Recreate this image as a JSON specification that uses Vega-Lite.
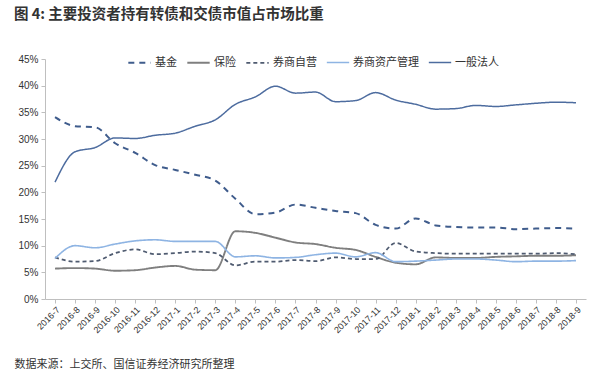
{
  "$schema": "https://vega.github.io/schema/vega-lite/v6.json",
  "autosize": "none",
  "width": 541,
  "height": 240,
  "padding": {"left": 45, "top": 59, "right": 14, "bottom": 78},
  "background": "white",
  "title": {
    "text": "图 4:  主要投资者持有转债和交债市值占市场比重",
    "anchor": "start",
    "frame": "group",
    "dx": -31,
    "offset": 28,
    "font": "Noto Sans CJK SC",
    "fontSize": 14.5,
    "fontWeight": "bold",
    "color": "#333333"
  },
  "config": {
    "view": {"stroke": null},
    "font": "Noto Sans CJK SC"
  },
  "datasets": {
    "rows": [
      {"month": "2016-7", "series": "基金", "value": 34.1},
      {"month": "2016-8", "series": "基金", "value": 32.4},
      {"month": "2016-9", "series": "基金", "value": 32.2},
      {"month": "2016-10", "series": "基金", "value": 29.2},
      {"month": "2016-11", "series": "基金", "value": 27.4},
      {"month": "2016-12", "series": "基金", "value": 25.1},
      {"month": "2017-1", "series": "基金", "value": 24.2},
      {"month": "2017-2", "series": "基金", "value": 23.3},
      {"month": "2017-3", "series": "基金", "value": 22.2},
      {"month": "2017-4", "series": "基金", "value": 18.8},
      {"month": "2017-5", "series": "基金", "value": 15.9},
      {"month": "2017-6", "series": "基金", "value": 16.2},
      {"month": "2017-7", "series": "基金", "value": 17.7},
      {"month": "2017-8", "series": "基金", "value": 17.1},
      {"month": "2017-9", "series": "基金", "value": 16.5},
      {"month": "2017-10", "series": "基金", "value": 16.1},
      {"month": "2017-11", "series": "基金", "value": 13.9},
      {"month": "2017-12", "series": "基金", "value": 13.2},
      {"month": "2018-1", "series": "基金", "value": 15.1},
      {"month": "2018-2", "series": "基金", "value": 13.8},
      {"month": "2018-3", "series": "基金", "value": 13.5},
      {"month": "2018-4", "series": "基金", "value": 13.4},
      {"month": "2018-5", "series": "基金", "value": 13.4},
      {"month": "2018-6", "series": "基金", "value": 13.1},
      {"month": "2018-7", "series": "基金", "value": 13.2},
      {"month": "2018-8", "series": "基金", "value": 13.3},
      {"month": "2018-9", "series": "基金", "value": 13.2},
      {"month": "2016-7", "series": "保险", "value": 5.7},
      {"month": "2016-8", "series": "保险", "value": 5.8},
      {"month": "2016-9", "series": "保险", "value": 5.7},
      {"month": "2016-10", "series": "保险", "value": 5.3},
      {"month": "2016-11", "series": "保险", "value": 5.4},
      {"month": "2016-12", "series": "保险", "value": 5.9},
      {"month": "2017-1", "series": "保险", "value": 6.2},
      {"month": "2017-2", "series": "保险", "value": 5.5},
      {"month": "2017-3", "series": "保险", "value": 5.4},
      {"month": "2017-4", "series": "保险", "value": 12.7},
      {"month": "2017-5", "series": "保险", "value": 12.4},
      {"month": "2017-6", "series": "保险", "value": 11.5},
      {"month": "2017-7", "series": "保险", "value": 10.6},
      {"month": "2017-8", "series": "保险", "value": 10.3},
      {"month": "2017-9", "series": "保险", "value": 9.6},
      {"month": "2017-10", "series": "保险", "value": 9.2},
      {"month": "2017-11", "series": "保险", "value": 7.9},
      {"month": "2017-12", "series": "保险", "value": 6.8},
      {"month": "2018-1", "series": "保险", "value": 6.5},
      {"month": "2018-2", "series": "保险", "value": 7.8},
      {"month": "2018-3", "series": "保险", "value": 7.7},
      {"month": "2018-4", "series": "保险", "value": 7.7},
      {"month": "2018-5", "series": "保险", "value": 7.9},
      {"month": "2018-6", "series": "保险", "value": 8.0},
      {"month": "2018-7", "series": "保险", "value": 8.1},
      {"month": "2018-8", "series": "保险", "value": 8.1},
      {"month": "2018-9", "series": "保险", "value": 8.2},
      {"month": "2016-7", "series": "券商自营", "value": 7.8},
      {"month": "2016-8", "series": "券商自营", "value": 7.0},
      {"month": "2016-9", "series": "券商自营", "value": 7.1},
      {"month": "2016-10", "series": "券商自营", "value": 8.6},
      {"month": "2016-11", "series": "券商自营", "value": 9.3},
      {"month": "2016-12", "series": "券商自营", "value": 8.4},
      {"month": "2017-1", "series": "券商自营", "value": 8.6},
      {"month": "2017-2", "series": "券商自营", "value": 8.9},
      {"month": "2017-3", "series": "券商自营", "value": 8.6},
      {"month": "2017-4", "series": "券商自营", "value": 6.3},
      {"month": "2017-5", "series": "券商自营", "value": 7.0},
      {"month": "2017-6", "series": "券商自营", "value": 7.0},
      {"month": "2017-7", "series": "券商自营", "value": 7.3},
      {"month": "2017-8", "series": "券商自营", "value": 7.1},
      {"month": "2017-9", "series": "券商自营", "value": 7.8},
      {"month": "2017-10", "series": "券商自营", "value": 7.5},
      {"month": "2017-11", "series": "券商自营", "value": 7.5},
      {"month": "2017-12", "series": "券商自营", "value": 10.5},
      {"month": "2018-1", "series": "券商自营", "value": 8.9},
      {"month": "2018-2", "series": "券商自营", "value": 8.6},
      {"month": "2018-3", "series": "券商自营", "value": 8.5},
      {"month": "2018-4", "series": "券商自营", "value": 8.5},
      {"month": "2018-5", "series": "券商自营", "value": 8.5},
      {"month": "2018-6", "series": "券商自营", "value": 8.5},
      {"month": "2018-7", "series": "券商自营", "value": 8.5},
      {"month": "2018-8", "series": "券商自营", "value": 8.6},
      {"month": "2018-9", "series": "券商自营", "value": 8.4},
      {"month": "2016-7", "series": "券商资产管理", "value": 7.6},
      {"month": "2016-8", "series": "券商资产管理", "value": 10.0},
      {"month": "2016-9", "series": "券商资产管理", "value": 9.6},
      {"month": "2016-10", "series": "券商资产管理", "value": 10.3},
      {"month": "2016-11", "series": "券商资产管理", "value": 10.9},
      {"month": "2016-12", "series": "券商资产管理", "value": 11.1},
      {"month": "2017-1", "series": "券商资产管理", "value": 10.8},
      {"month": "2017-2", "series": "券商资产管理", "value": 10.8},
      {"month": "2017-3", "series": "券商资产管理", "value": 10.8},
      {"month": "2017-4", "series": "券商资产管理", "value": 7.9},
      {"month": "2017-5", "series": "券商资产管理", "value": 8.1},
      {"month": "2017-6", "series": "券商资产管理", "value": 7.7},
      {"month": "2017-7", "series": "券商资产管理", "value": 7.8},
      {"month": "2017-8", "series": "券商资产管理", "value": 8.3},
      {"month": "2017-9", "series": "券商资产管理", "value": 8.6},
      {"month": "2017-10", "series": "券商资产管理", "value": 7.9},
      {"month": "2017-11", "series": "券商资产管理", "value": 8.7},
      {"month": "2017-12", "series": "券商资产管理", "value": 7.0},
      {"month": "2018-1", "series": "券商资产管理", "value": 7.1},
      {"month": "2018-2", "series": "券商资产管理", "value": 7.3},
      {"month": "2018-3", "series": "券商资产管理", "value": 7.5},
      {"month": "2018-4", "series": "券商资产管理", "value": 7.5},
      {"month": "2018-5", "series": "券商资产管理", "value": 7.3},
      {"month": "2018-6", "series": "券商资产管理", "value": 7.0},
      {"month": "2018-7", "series": "券商资产管理", "value": 7.1},
      {"month": "2018-8", "series": "券商资产管理", "value": 7.1},
      {"month": "2018-9", "series": "券商资产管理", "value": 7.2},
      {"month": "2016-7", "series": "一般法人", "value": 21.9},
      {"month": "2016-8", "series": "一般法人", "value": 27.6},
      {"month": "2016-9", "series": "一般法人", "value": 28.4},
      {"month": "2016-10", "series": "一般法人", "value": 30.2},
      {"month": "2016-11", "series": "一般法人", "value": 30.1},
      {"month": "2016-12", "series": "一般法人", "value": 30.7},
      {"month": "2017-1", "series": "一般法人", "value": 31.1},
      {"month": "2017-2", "series": "一般法人", "value": 32.4},
      {"month": "2017-3", "series": "一般法人", "value": 33.6},
      {"month": "2017-4", "series": "一般法人", "value": 36.5},
      {"month": "2017-5", "series": "一般法人", "value": 37.9},
      {"month": "2017-6", "series": "一般法人", "value": 39.9},
      {"month": "2017-7", "series": "一般法人", "value": 38.6},
      {"month": "2017-8", "series": "一般法人", "value": 38.8},
      {"month": "2017-9", "series": "一般法人", "value": 37.0},
      {"month": "2017-10", "series": "一般法人", "value": 37.2},
      {"month": "2017-11", "series": "一般法人", "value": 38.7},
      {"month": "2017-12", "series": "一般法人", "value": 37.3},
      {"month": "2018-1", "series": "一般法人", "value": 36.5},
      {"month": "2018-2", "series": "一般法人", "value": 35.6},
      {"month": "2018-3", "series": "一般法人", "value": 35.7},
      {"month": "2018-4", "series": "一般法人", "value": 36.3},
      {"month": "2018-5", "series": "一般法人", "value": 36.1},
      {"month": "2018-6", "series": "一般法人", "value": 36.4},
      {"month": "2018-7", "series": "一般法人", "value": 36.7},
      {"month": "2018-8", "series": "一般法人", "value": 36.9},
      {"month": "2018-9", "series": "一般法人", "value": 36.8}
    ]
  },
  "data": {"name": "rows"},
  "mark": {"type": "line", "interpolate": "monotone"},
  "encoding": {
    "x": {
      "field": "month",
      "type": "ordinal",
      "sort": null,
      "scale": {"type": "point", "padding": 0.5},
      "axis": {
        "title": "数据来源：上交所、国信证券经济研究所整理",
        "titleX": -31,
        "titleY": 65,
        "titleAlign": "left",
        "titleBaseline": "middle",
        "titleFont": "Noto Sans CJK SC",
        "titleFontSize": 11,
        "titleFontWeight": "normal",
        "titleColor": "#333333",
        "labelAngle": -45,
        "labelAlign": "right",
        "labelBaseline": "top",
        "labelFont": "Liberation Sans",
        "labelFontSize": 9,
        "labelColor": "#333333",
        "labelPadding": 2,
        "domainColor": "#BFBFBF",
        "tickColor": "#BFBFBF",
        "tickSize": 4,
        "grid": false
      }
    },
    "y": {
      "field": "value",
      "type": "quantitative",
      "scale": {"domain": [0, 45], "nice": false},
      "axis": {
        "title": null,
        "values": [0, 5, 10, 15, 20, 25, 30, 35, 40, 45],
        "labelExpr": "datum.value + '%'",
        "labelFont": "Liberation Sans",
        "labelFontSize": 10,
        "labelColor": "#333333",
        "labelPadding": 3,
        "domainColor": "#BFBFBF",
        "tickColor": "#BFBFBF",
        "tickSize": 4,
        "grid": false
      }
    },
    "color": {
      "field": "series",
      "type": "nominal",
      "scale": {
        "domain": ["基金", "保险", "券商自营", "券商资产管理", "一般法人"],
        "range": ["#3F5C8C", "#7F7F7F", "#4F5B70", "#8EB4E3", "#4D6C9F"]
      },
      "legend": {
        "title": null,
        "orient": "none",
        "legendX": 82,
        "legendY": -9,
        "direction": "horizontal",
        "symbolType": "stroke",
        "symbolSize": 500,
        "labelFont": "Noto Sans CJK SC",
        "labelFontSize": 11,
        "labelColor": "#333333",
        "columnPadding": 6,
        "labelOffset": 3
      }
    },
    "strokeDash": {
      "field": "series",
      "type": "nominal",
      "scale": {
        "domain": ["基金", "保险", "券商自营", "券商资产管理", "一般法人"],
        "range": [[6, 5], [1, 0], [4, 3], [1, 0], [1, 0]]
      },
      "legend": {
        "title": null,
        "orient": "none",
        "legendX": 82,
        "legendY": -9,
        "direction": "horizontal",
        "symbolType": "stroke",
        "symbolSize": 500,
        "labelFont": "Noto Sans CJK SC",
        "labelFontSize": 11,
        "labelColor": "#333333",
        "columnPadding": 6,
        "labelOffset": 3
      }
    },
    "strokeWidth": {
      "field": "series",
      "type": "nominal",
      "scale": {
        "domain": ["基金", "保险", "券商自营", "券商资产管理", "一般法人"],
        "range": [2, 1.5, 1.5, 2.5, 2]
      },
      "legend": {
        "title": null,
        "orient": "none",
        "legendX": 82,
        "legendY": -9,
        "direction": "horizontal",
        "symbolType": "stroke",
        "symbolSize": 500,
        "labelFont": "Noto Sans CJK SC",
        "labelFontSize": 11,
        "labelColor": "#333333",
        "columnPadding": 6,
        "labelOffset": 3
      }
    }
  }
}
